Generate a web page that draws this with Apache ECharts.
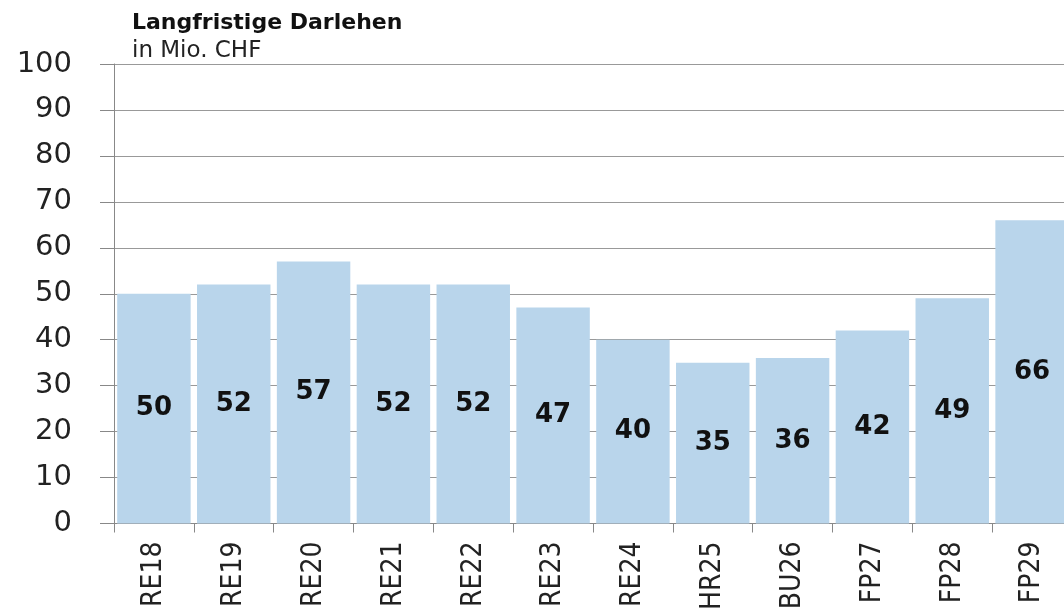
<!DOCTYPE html>
<html>
<head>
<meta charset="utf-8">
<script src="https://cdn.jsdelivr.net/npm/echarts@6/dist/echarts.min.js"></script>
<style>
  html, body { margin: 0; padding: 0; background: #fff; overflow: hidden; }
  /* chart a little wider than the window: last bar is cut off at the right edge */
  #chart { width: 1072px; height: 613px; }
</style>
</head>
<body>
<div id="chart"></div>
<script>
var categories = ['RE18', 'RE19', 'RE20', 'RE21', 'RE22', 'RE23', 'RE24', 'HR25', 'BU26', 'FP27', 'FP28', 'FP29'];
var darlehen = [50, 52, 57, 52, 52, 47, 40, 35, 36, 42, 49, 66];

var myChart = echarts.init(document.getElementById('chart'));
var option = {
  animation: false,
  title: {
    text: 'Langfristige Darlehen',
    subtext: 'in Mio. CHF',
    left: 127,
    top: 7,
    itemGap: 6,
    textStyle: {
      fontFamily: '"DejaVu Sans", sans-serif',
      fontSize: 22,
      fontWeight: 'bold',
      color: '#111'
    },
    subtextStyle: {
      fontFamily: '"DejaVu Sans", sans-serif',
      fontSize: 23,
      color: '#222'
    }
  },
  grid: {
    left: 114,
    right: 0,
    top: 64,
    bottom: 89,
    containLabel: false
  },
  xAxis: {
    type: 'category',
    data: categories,
    axisLine: { lineStyle: { color: '#888', width: 1 } },
    axisTick: { show: true, length: 9, lineStyle: { color: '#888' } },
    axisLabel: {
      rotate: 90,
      margin: 18,
      fontFamily: '"Liberation Sans Narrow", "DejaVu Sans Condensed", Roboto, sans-serif',
      fontSize: 28,
      color: '#222'
    }
  },
  yAxis: {
    type: 'value',
    min: 0,
    max: 100,
    interval: 10,
    axisLine: { show: true, lineStyle: { color: '#888', width: 1 } },
    axisTick: { show: true, length: 14, lineStyle: { color: '#888' } },
    splitLine: { lineStyle: { color: '#999', width: 1 } },
    axisLabel: {
      margin: 42,
      fontFamily: '"DejaVu Sans", sans-serif',
      fontSize: 29,
      color: '#222'
    }
  },
  series: [
    {
      name: 'Langfristige Darlehen',
      type: 'bar',
      data: darlehen,
      barCategoryGap: '8%',
      itemStyle: { color: '#b9d5eb' },
      label: {
        show: true,
        position: 'inside',
        fontFamily: '"DejaVu Sans", sans-serif',
        fontSize: 26,
        fontWeight: 'bold',
        color: '#111'
      }
    }
  ]
};
myChart.setOption(option);
</script>
</body>
</html>
